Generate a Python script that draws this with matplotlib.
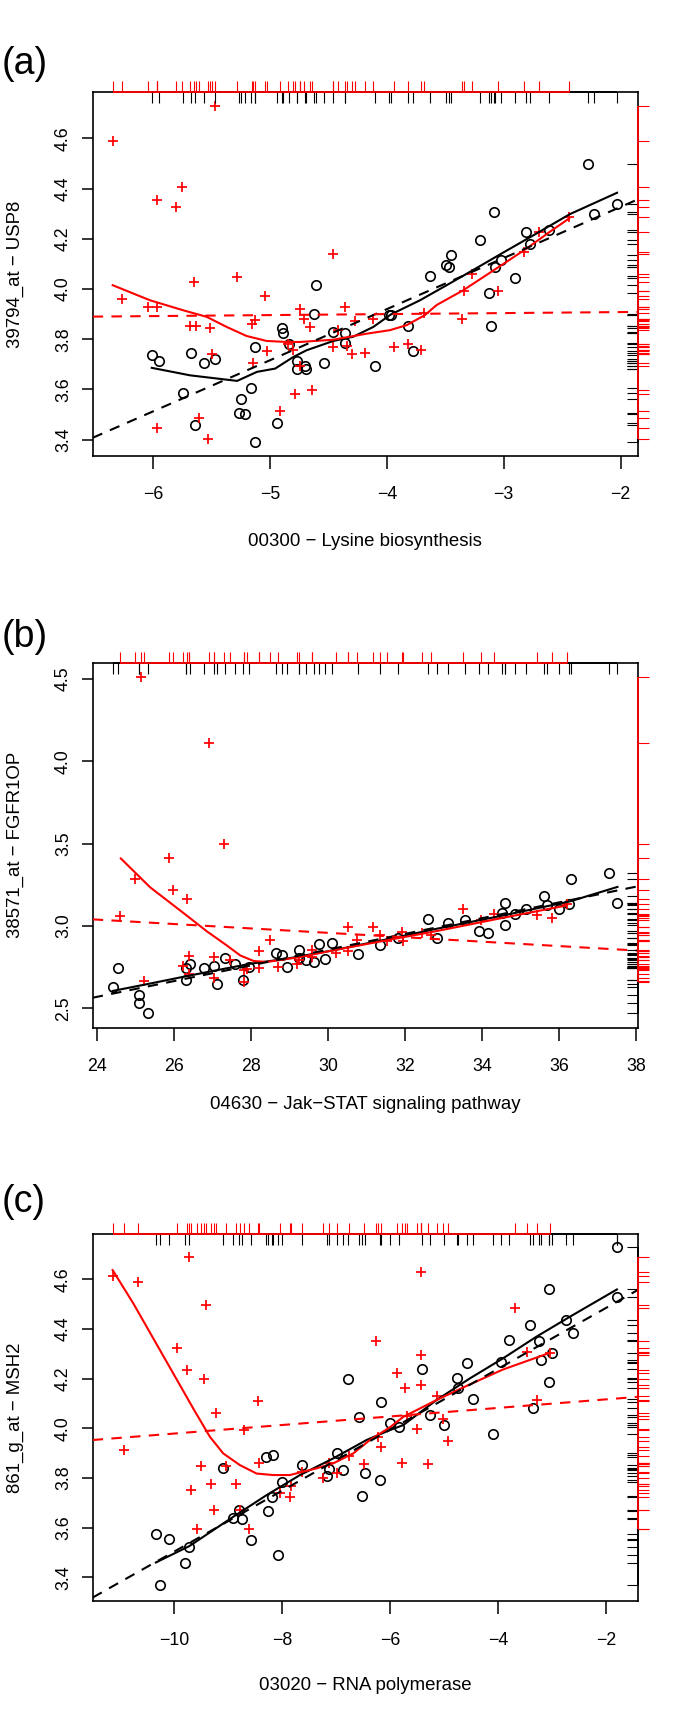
import matplotlib
matplotlib.use('Agg')
import matplotlib.pyplot as plt
from matplotlib.ticker import FixedLocator, FormatStrFormatter

plt.rcParams['font.family'] = ['Liberation Sans', 'DejaVu Sans']

# ---- panel (a): 00300 - Lysine biosynthesis vs 39794_at - USP8
a_circ_x = [-6.01, -5.945, -5.677, -5.56, -5.466, -5.745, -5.637, -5.266, -5.215, -5.243,
            -5.158, -5.123, -5.127, -4.94, -4.90, -4.884, -4.833, -4.77, -4.77, -4.70,
            -4.69, -4.605, -4.625, -4.54, -4.457, -4.354, -4.354, -4.097, -3.978, -3.96,
            -3.822, -3.779, -3.631, -3.494, -3.471, -3.454, -3.2, -3.129, -3.112, -3.086,
            -3.072, -3.02, -2.901, -2.812, -2.775, -2.61, -2.279, -2.228, -2.031]
a_circ_y = [3.739, 3.714, 3.745, 3.706, 3.722, 3.587, 3.457, 3.507, 3.503, 3.560,
            3.607, 3.391, 3.768, 3.466, 3.845, 3.826, 3.780, 3.712, 3.68, 3.693,
            3.683, 4.017, 3.90, 3.704, 3.829, 3.826, 3.785, 3.692, 3.898, 3.895,
            3.853, 3.752, 4.052, 4.095, 4.088, 4.135, 4.196, 3.983, 3.852, 4.305,
            4.089, 4.117, 4.044, 4.226, 4.18, 4.233, 4.496, 4.30, 4.337]
a_plus_x = [-6.344, -5.967, -5.753, -5.799, -5.468, -4.462, -5.645, -5.277, -6.261, -6.045,
            -5.962, -5.04, -4.742, -4.708, -4.66, -5.127, -5.15, -5.683, -5.629, -5.515,
            -4.36, -4.272, -4.42, -5.027, -5.492, -5.14, -4.841, -4.8, -4.742, -4.457,
            -4.343, -4.294, -4.186, -4.782, -4.637, -4.911, -5.609, -5.967, -5.531, -4.115,
            -3.679, -3.354, -3.936, -3.816, -3.71, -3.34, -3.046, -3.275, -2.827, -2.696, -2.44]
a_plus_y = [4.589, 4.354, 4.406, 4.327, 4.729, 4.141, 4.028, 4.046, 3.961, 3.927,
            3.929, 3.974, 3.919, 3.882, 3.849, 3.877, 3.859, 3.852, 3.852, 3.845,
            3.929, 3.874, 3.836, 3.752, 3.74, 3.705, 3.782, 3.759, 3.692, 3.767,
            3.772, 3.74, 3.745, 3.583, 3.599, 3.513, 3.488, 3.445, 3.401, 3.882,
            3.905, 3.88, 3.767, 3.782, 3.759, 3.991, 3.991, 4.061, 4.148, 4.225, 4.287]
a_lowb_x = [-6.01, -5.68, -5.28, -5.11, -4.955, -4.80, -4.686, -4.457, -4.286, -4.115,
            -3.967, -3.716, -3.488, -3.289, -3.004, -2.719, -2.434, -2.031]
a_lowb_y = [3.686, 3.656, 3.634, 3.670, 3.683, 3.729, 3.756, 3.793, 3.81, 3.849,
            3.898, 3.955, 4.015, 4.068, 4.145, 4.221, 4.298, 4.383]
a_lowr_x = [-6.344, -6.025, -5.74, -5.54, -5.37, -5.2, -5.027, -4.856, -4.742, -4.457,
            -4.172, -3.973, -3.83, -3.674, -3.574, -3.346, -3.061, -2.804, -2.605, -2.44]
a_lowr_y = [4.015, 3.955, 3.915, 3.889, 3.849, 3.813, 3.793, 3.789, 3.789, 3.798,
            3.822, 3.836, 3.856, 3.896, 3.936, 3.995, 4.082, 4.161, 4.228, 4.281]
a_fit_black = (4.734, 0.2036)   # intercept, slope
a_fit_red = (3.916, 0.004)

# ---- panel (b): 04630 - Jak-STAT signaling pathway vs 38571_at - FGFR1OP
b_circ_x = [24.41, 24.556, 25.10, 25.10, 25.32, 26.317, 26.42, 26.317, 26.78, 27.05,
            27.11, 27.33, 27.59, 27.79, 27.95, 28.645, 28.81, 28.94, 29.25, 29.24,
            29.43, 29.65, 29.765, 29.93, 30.1, 30.77, 31.34, 31.83, 32.59, 32.82,
            33.13, 33.55, 33.93, 34.15, 34.52, 34.6, 34.61, 34.85, 35.14, 35.62,
            35.69, 36.01, 36.26, 36.30, 37.30, 37.52]
b_circ_y = [2.63, 2.744, 2.578, 2.533, 2.472, 2.744, 2.77, 2.669, 2.744, 2.758,
            2.649, 2.807, 2.766, 2.673, 2.75, 2.837, 2.821, 2.75, 2.856, 2.807,
            2.791, 2.781, 2.892, 2.801, 2.898, 2.831, 2.882, 2.929, 3.044, 2.927,
            3.02, 3.034, 2.967, 2.959, 3.081, 3.14, 3.004, 3.075, 3.101, 3.18,
            3.129, 3.105, 3.135, 3.283, 3.324, 3.137]
b_plus_x = [25.15, 26.92, 27.29, 25.865, 24.99, 25.97, 26.35, 24.6, 25.21, 26.38,
            26.23, 26.40, 27.04, 27.04, 27.46, 27.81, 27.82, 27.89, 28.2, 28.21,
            28.5, 28.69, 29.19, 29.24, 29.59, 29.58, 30.21, 30.53, 30.51, 30.75,
            31.18, 31.34, 31.53, 31.92, 31.96, 32.44, 32.68, 33.52, 33.97, 34.3,
            35.43, 35.82, 36.21]
b_plus_y = [4.514, 4.113, 3.50, 3.415, 3.286, 3.217, 3.166, 3.058, 2.665, 2.817,
            2.756, 2.71, 2.811, 2.683, 2.791, 2.734, 2.659, 2.74, 2.846, 2.744,
            2.912, 2.75, 2.77, 2.791, 2.852, 2.811, 2.835, 2.994, 2.848, 2.912,
            2.994, 2.947, 2.906, 2.963, 2.906, 2.959, 2.943, 3.105, 3.038, 3.071,
            3.064, 3.048, 3.135]
b_lowb_x = [24.41, 25.38, 26.33, 27.2, 27.98, 28.93, 30.14, 31.62, 32.83, 34.56, 36.3, 37.52]
b_lowb_y = [2.605, 2.65, 2.695, 2.735, 2.77, 2.801, 2.852, 2.923, 2.983, 3.064, 3.15, 3.237]
b_lowr_x = [24.62, 25.38, 26.25, 26.85, 27.37, 27.72, 28.07, 28.41, 29.28, 30.14,
            31.62, 32.83, 34.56, 36.21]
b_lowr_y = [3.41, 3.235, 3.078, 2.968, 2.882, 2.821, 2.787, 2.781, 2.811, 2.852,
            2.917, 2.969, 3.05, 3.125]
b_fit_black = (1.422, 0.0478)
b_fit_red = (3.360, -0.0134)

# ---- panel (c): 03020 - RNA polymerase vs 861_g_at - MSH2
c_circ_x = [-10.339, -10.098, -9.72, -9.80, -8.079, -8.573, -8.906, -8.807, -8.74, -8.27,
            -8.197, -8.01, -9.104, -8.307, -8.171, -7.633, -7.127, -7.177, -6.992, -6.868,
            -6.516, -6.461, -6.19, -6.585, -6.17, -6.781, -6.0, -10.26, -5.831, -5.417,
            -5.263, -4.997, -4.756, -4.738, -4.584, -4.467, -4.102, -3.942, -3.806, -3.405,
            -3.35, -3.239, -3.214, -3.066, -3.06, -3.004, -2.745, -2.62, -1.80, -1.806]
c_circ_y = [3.573, 3.556, 3.523, 3.456, 3.492, 3.55, 3.64, 3.671, 3.637, 3.668,
            3.724, 3.783, 3.841, 3.883, 3.894, 3.851, 3.837, 3.809, 3.899, 3.832,
            3.727, 3.821, 3.791, 4.047, 4.106, 4.198, 4.02, 3.37, 4.007, 4.24,
            4.052, 4.013, 4.201, 4.162, 4.264, 4.12, 3.977, 4.267, 4.357, 4.416,
            4.083, 4.35, 4.275, 4.185, 4.561, 4.302, 4.436, 4.384, 4.729, 4.53]
c_plus_x = [-11.141, -10.666, -9.72, -9.418, -9.956, -9.77, -9.45, -9.221, -8.443, -10.926,
            -8.71, -9.506, -9.042, -9.69, -9.327, -8.858, -9.265, -9.585, -8.61, -8.783,
            -8.424, -8.041, -7.844, -7.856, -7.633, -7.237, -6.978, -7.127, -6.757, -6.485,
            -6.26, -6.22, -6.17, -5.436, -5.88, -5.725, -5.436, -5.436, -5.695, -5.51,
            -5.128, -5.03, -4.935, -5.788, -5.293, -3.689, -3.46, -3.287, -3.04]
c_plus_y = [4.614, 4.588, 4.688, 4.496, 4.324, 4.234, 4.197, 4.063, 4.11, 3.913,
            3.993, 3.85, 3.848, 3.751, 3.775, 3.775, 3.671, 3.594, 3.594, 3.671,
            3.861, 3.738, 3.767, 3.725, 3.825, 3.802, 3.822, 3.859, 3.89, 3.856,
            4.351, 3.966, 3.926, 4.631, 4.221, 4.161, 4.295, 4.174, 4.05, 3.996,
            4.13, 4.036, 3.949, 3.862, 3.856, 4.483, 4.308, 4.114, 4.304]
c_lowb_x = [-10.34, -9.72, -8.906, -8.29, -7.67, -7.054, -6.437, -6.005, -5.758, -5.14,
            -4.523, -3.907, -3.289, -2.672, -1.80]
c_lowb_y = [3.46, 3.526, 3.644, 3.731, 3.812, 3.879, 3.953, 3.993, 4.013, 4.114,
            4.201, 4.282, 4.369, 4.449, 4.559]
c_lowr_x = [-11.141, -10.758, -10.141, -9.648, -9.339, -9.092, -8.783, -8.474, -8.166, -7.857,
            -7.363, -7.054, -6.684, -6.375, -6.005, -5.758, -5.14, -4.523, -3.907, -3.04]
c_lowr_y = [4.637, 4.503, 4.268, 4.08, 3.966, 3.899, 3.852, 3.818, 3.812, 3.812,
            3.839, 3.859, 3.899, 3.953, 4.004, 4.046, 4.114, 4.177, 4.237, 4.304]
c_fit_black = (4.730, 0.1226)
c_fit_red = (4.151, 0.0172)

labels = ['(a)', '(b)', '(c)']
xlabels = ['00300 \u2212 Lysine biosynthesis', '04630 \u2212 Jak\u2212STAT signaling pathway',
           '03020 \u2212 RNA polymerase']
ylabels = ['39794_at \u2212 USP8', '38571_at \u2212 FGFR1OP', '861_g_at \u2212 MSH2']
xticks = [[-6, -5, -4, -3, -2], [24, 26, 28, 30, 32, 34, 36, 38], [-10, -8, -6, -4, -2]]
yticks = [[3.4, 3.6, 3.8, 4.0, 4.2, 4.4, 4.6], [2.5, 3.0, 3.5, 4.0, 4.5],
          [3.4, 3.6, 3.8, 4.0, 4.2, 4.4, 4.6]]

W, H = 685, 1712
fig = plt.figure(figsize=(W / 100, H / 100), dpi=100)

# pixel boxes (left, top, right, bottom), axis limits, panel-label centre, xlabel offset
panels = [
    dict(box=(92.7, 92.3, 637.5, 455.5), xlim=(-6.515, -1.856), ylim=(3.337, 4.783),
         ly=64.5, xl=86.5,
         cx=a_circ_x, cy=a_circ_y, px=a_plus_x, py=a_plus_y,
         lbx=a_lowb_x, lby=a_lowb_y, lrx=a_lowr_x, lry=a_lowr_y, fb=a_fit_black, fr=a_fit_red),
    dict(box=(92.7, 662.7, 637.5, 1027.5), xlim=(23.89, 38.04), ylim=(2.383, 4.599),
         ly=637, xl=77,
         cx=b_circ_x, cy=b_circ_y, px=b_plus_x, py=b_plus_y,
         lbx=b_lowb_x, lby=b_lowb_y, lrx=b_lowr_x, lry=b_lowr_y, fb=b_fit_black, fr=b_fit_red),
    dict(box=(92.7, 1234.3, 637.5, 1601), xlim=(-11.51, -1.418), ylim=(3.305, 4.781),
         ly=1202, xl=84,
         cx=c_circ_x, cy=c_circ_y, px=c_plus_x, py=c_plus_y,
         lbx=c_lowb_x, lby=c_lowb_y, lrx=c_lowr_x, lry=c_lowr_y, fb=c_fit_black, fr=c_fit_red),
]


def rug(ax, xs, ys, color, sign, wpx, hpx):
    # ticks on top (x values) and right (y values), plus the rug's own line
    dy = sign * 11.0 / hpx
    dx = sign * 11.0 / wpx
    tx = ax.get_xaxis_transform()
    ty = ax.get_yaxis_transform()
    ax.vlines(xs, 1, 1 + dy, transform=tx, colors=color, lw=0.8, clip_on=False, zorder=4)
    ax.hlines(1, min(xs), max(xs), transform=tx, colors=color, lw=1.3, clip_on=False, zorder=4)
    ax.hlines(ys, 1, 1 + dx, transform=ty, colors=color, lw=0.8, clip_on=False, zorder=4)
    ax.vlines(1, min(ys), max(ys), transform=ty, colors=color, lw=1.3, clip_on=False, zorder=4)


for i, p in enumerate(panels):
    l, t, r, b = p['box']
    wpx, hpx = r - l, b - t
    ax = fig.add_axes([l / W, 1 - b / H, wpx / W, hpx / H])

    ax.plot(p['cx'], p['cy'], 'o', mfc='none', mec='black', ms=6.8, mew=1.2, zorder=3)
    ax.plot(p['px'], p['py'], '+', color='red', ms=7, mew=1.25, zorder=3)

    ax.plot(p['lbx'], p['lby'], color='black', lw=1.5, zorder=3)
    ax.plot(p['lrx'], p['lry'], color='red', lw=1.5, zorder=3)
    ax.axline((0, p['fb'][0]), slope=p['fb'][1], color='black', lw=1.5,
              dashes=(5, 4), zorder=3)
    ax.axline((0, p['fr'][0]), slope=p['fr'][1], color='red', lw=1.5,
              dashes=(5, 4), zorder=3)

    rug(ax, p['cx'], p['cy'], 'black', -1, wpx, hpx)
    rug(ax, p['px'], p['py'], 'red', 1, wpx, hpx)

    ax.set_xlim(*p['xlim'])
    ax.set_ylim(*p['ylim'])
    ax.xaxis.set_major_locator(FixedLocator(xticks[i]))
    ax.yaxis.set_major_locator(FixedLocator(yticks[i]))
    ax.yaxis.set_major_formatter(FormatStrFormatter('%.1f'))
    for s in ax.spines.values():
        s.set_linewidth(1.2)
    ax.tick_params(axis='x', direction='out', length=9, width=1.1, pad=13, labelsize=12.8)
    ax.tick_params(axis='y', direction='out', length=8, width=1.1, pad=7, labelsize=12.8,
                   labelrotation=90)
    for lab in ax.get_yticklabels():
        lab.set_va('center')

    ax.set_xlabel(xlabels[i], fontsize=13.4, va='center')
    ax.xaxis.set_label_coords(0.5, -p['xl'] / hpx)
    ax.set_ylabel(ylabels[i], fontsize=13.4, va='center')
    ax.yaxis.set_label_coords(-(l - 15.0) / wpx, 0.5)

    fig.text(2 / W, 1 - p['ly'] / H, labels[i], fontsize=27, ha='left', va='center')

fig.savefig('out.png', dpi=100)
